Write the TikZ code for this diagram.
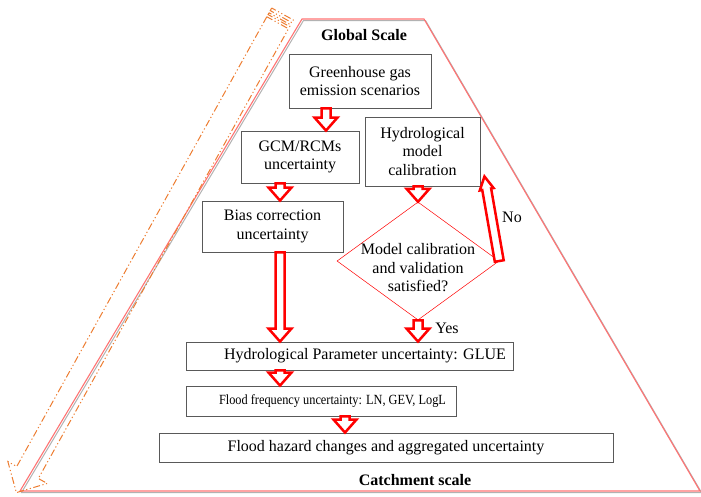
\documentclass[tikz,border=0pt]{standalone}
\usepackage{fontspec}
\setmainfont{Liberation Serif}
\usetikzlibrary{calc,shapes.geometric}
\definecolor{boxgray}{RGB}{89,89,89}
\definecolor{scaleorange}{RGB}{237,125,49}
\newcommand{\diagfont}{\fontsize{16}{18.5}\selectfont}
\tikzset{
  stage/.style={draw=boxgray,line width=0.9pt,fill=white,align=center,inner sep=2pt},
  decision/.style={draw=red,diamond,aspect=1.373,align=center,line width=0.5pt,inner sep=-7pt,minimum width=162pt,minimum height=118pt},
  fatarr/.style={draw=red,line width=2.5pt,fill=white,line join=miter},
  scalebox/.style={draw=red!55,line width=1.1pt},
  scaleshadow/.style={draw=gray!60,line width=1pt},
  scalearr/.style={draw=scaleorange,line width=1pt,dash pattern=on 7pt off 2.5pt on 1.2pt off 2.5pt on 1.2pt off 2.5pt},
  scalelbl/.style={font=\diagfont\bfseries},
  lbl/.style={inner sep=1pt}
}
% hollow block arrow from #2 to #3, #1 = half width of the head
\newcommand{\fatarrow}[3][11.5pt]{%
  \path #2 coordinate (fas) #3 coordinate (fae);
  \draw[fatarr] ($(fas)!4.5pt!90:(fae)$) -- ($(fae)!13pt!(fas)!4.5pt!-90:(fas)$)
    -- ($(fae)!13pt!(fas)!#1!-90:(fas)$) -- (fae)
    -- ($(fae)!13pt!(fas)!#1!90:(fas)$) -- ($(fae)!13pt!(fas)!4.5pt!90:(fas)$)
    -- ($(fas)!4.5pt!-90:(fae)$) -- cycle;}

\begin{document}
\begin{tikzpicture}[x=1pt,y=-1pt,font=\diagfont]
\useasboundingbox (0,0) rectangle (701,496);
% scale frame
\draw[scaleshadow] (303.5,20.5) -- (425.5,20.5) -- (701.5,492.5) -- (21.5,492.5) -- cycle;
\draw[scalebox] (302,19) -- (424,19) -- (700,491) -- (20,491) -- cycle;
% striped arrow along the left side
\begin{scope}[shift={(282.5,14)},x={(-0.486pt,-0.874pt)},y={(0.874pt,-0.486pt)}]
  \draw[scalearr] (10,-12.35) -- (524.6,-12.35) -- (524.6,-22.5) -- (547.6,0) -- (524.6,22.5) -- (524.6,12.35) -- (10,12.35) -- cycle;
  \draw[scalearr] (0,-12.35) -- (3,-12.35) -- (3,12.35) -- (0,12.35) -- cycle;
  \draw[scalearr] (5.5,-12.35) -- (7.5,-12.35) -- (7.5,12.35) -- (5.5,12.35) -- cycle;
\end{scope}
\node[scalelbl] (glob) at (364,35) {Global Scale};
\node[stage,minimum width=142pt,minimum height=54pt] (ghg) at (360,81) {Greenhouse gas\\emission scenarios};
\node[stage,minimum width=118pt,minimum height=52pt] (gcm) at (300,157) {GCM/RCMs\\uncertainty};
\node[stage,minimum width=115pt,minimum height=69pt] (hmc) at (422.5,151.5) {Hydrological\\model\\calibration};
\node[stage,minimum width=141pt,minimum height=51pt] (bias) at (272.5,226.5) {Bias correction\\uncertainty};
\node[decision] (dia) at (418,261) {\raisebox{-13pt}[0pt][0pt]{\begin{tabular}{@{}c@{}}Model calibration\\and validation\\satisfied?\end{tabular}}};
\node[stage,minimum width=327pt,minimum height=28pt] (hp) at (349.5,356) {\hspace*{31pt}Hydrological Parameter uncertainty: GLUE};
\node[stage,minimum width=270pt,minimum height=30pt] (ff) at (321,401) {\hspace*{23pt}{\fontsize{14}{16}\selectfont\scalebox{0.88}[1]{Flood frequency uncertainty: LN, GEV, LogL}}};
\node[stage,minimum width=454pt,minimum height=29pt] (fh) at (386,447.5) {Flood hazard changes and aggregated uncertainty};
\node[scalelbl] (catch) at (415,480) {Catchment scale};
\node[lbl] (no) at (512,217) {No};
\node[lbl] (yes) at (447,328) {Yes};
% flow
\coordinate (a1) at ([xshift=-34pt]ghg.south);
\coordinate (a2) at ([xshift=-20pt]gcm.south);
\coordinate (a4) at ([xshift=7.5pt]bias.south);
\coordinate (a7) at ([xshift=24pt]ff.south);
\fatarrow{(a1)}{(a1 |- gcm.north)}
\fatarrow{(a2)}{(a2 |- bias.north)}
\fatarrow{(dia.north |- hmc.south)}{(dia.north)}
\fatarrow{(a4)}{(a4 |- hp.north)}
\fatarrow{(dia.south)}{(dia.south |- hp.north)}
\fatarrow{(a4 |- hp.south)}{(a4 |- ff.north)}
\fatarrow{(a7)}{(a7 |- fh.north)}
\fatarrow[7pt]{(dia.east)}{($(hmc.south east)+(4,-10)$)}
\end{tikzpicture}
\end{document}
